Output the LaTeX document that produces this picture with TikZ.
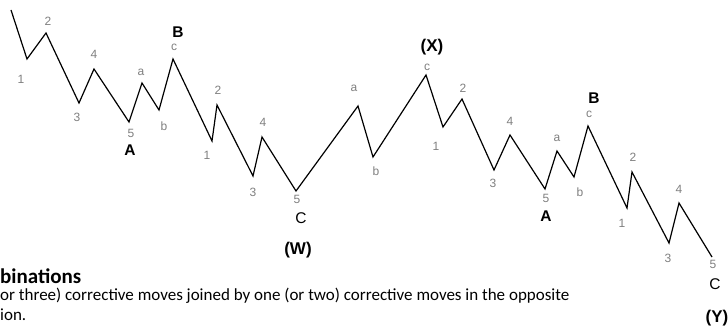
\documentclass[tikz,border=0pt]{standalone}
\usepackage{fontspec}
\setmainfont{Liberation Sans}
\newfontfamily\bodyfont{Carlito}
\definecolor{lblgray}{HTML}{7F7F7F}
\tikzset{
  wave/.style={line width=1.2pt, black, line join=miter},
  sub/.style={text=lblgray, font=\fontsize{12}{12}\selectfont, inner sep=0pt},
  big/.style={text=black, font=\fontsize{15.5}{15.5}\selectfont\bfseries, inner sep=0pt},
  bigreg/.style={text=black, font=\fontsize{15.5}{15.5}\selectfont, inner sep=0pt},
  deg/.style={text=black, font=\fontsize{17}{17}\selectfont\bfseries, inner sep=0pt},
  body/.style={text=black, anchor=west, inner sep=0pt}
}
\begin{document}
\begin{tikzpicture}[x=1pt,y=-1pt]
\useasboundingbox (0,0) rectangle (728,326);
% wave points
\coordinate (p0) at (11,10);
\coordinate (p1) at (27,59);
\coordinate (p2) at (46,33);
\coordinate (p3) at (79,103);
\coordinate (p4) at (94,69);
\coordinate (p5) at (129,122);
\coordinate (pa) at (142,83);
\coordinate (pb) at (159,110);
\coordinate (pc) at (173,59);
\coordinate (q1) at (212,141);
\coordinate (q2) at (217,105);
\coordinate (q3) at (253,176);
\coordinate (q4) at (262,137);
\coordinate (q5) at (296,191);
\coordinate (ra) at (358,106);
\coordinate (rb) at (373,157);
\coordinate (rc) at (426,75);
\coordinate (s1) at (443,127);
\coordinate (s2) at (462,99);
\coordinate (s3) at (494,170);
\coordinate (s4) at (510,135);
\coordinate (s5) at (545,189);
\coordinate (ta) at (557,151);
\coordinate (tb) at (574,177);
\coordinate (tc) at (588,126);
\coordinate (u1) at (627,208);
\coordinate (u2) at (632,172);
\coordinate (u3) at (669,243);
\coordinate (u4) at (679,203);
\coordinate (u5) at (712,257);
\draw[wave] (p0) -- (p1) -- (p2) -- (p3) -- (p4) -- (p5) -- (pa) -- (pb) -- (pc)
  -- (q1) -- (q2) -- (q3) -- (q4) -- (q5) -- (ra) -- (rb) -- (rc)
  -- (s1) -- (s2) -- (s3) -- (s4) -- (s5) -- (ta) -- (tb) -- (tc)
  -- (u1) -- (u2) -- (u3) -- (u4) -- (u5);
% labels, first W
\node[sub] (l1) at (21,79) {1};
\node[sub] (l2) at (48,21) {2};
\node[sub] (l3) at (77,117) {3};
\node[sub] (l4) at (94,54) {4};
\node[sub] (l5) at (131,133) {5};
\node[big] (lA) at (130,150) {A};
\node[sub] (la) at (141,72) {a};
\node[sub] (lb) at (164,126) {b};
\node[sub] (lc) at (174,47) {c};
\node[big] (lB) at (178,32) {B};
\node[sub] (m1) at (207,155) {1};
\node[sub] (m2) at (218,90) {2};
\node[sub] (m3) at (253,192) {3};
\node[sub] (m4) at (263,122) {4};
\node[sub] (m5) at (297,199) {5};
\node[bigreg] (lC) at (301,218) {C};
\node[deg] (lW) at (298,250) {(W)};
% X
\node[sub] (xa) at (354,88) {a};
\node[sub] (xb) at (376,171) {b};
\node[sub] (xc) at (427,67) {c};
\node[deg] (lX) at (432,47) {(X)};
% Y
\node[sub] (n1) at (436,146) {1};
\node[sub] (n2) at (463,88) {2};
\node[sub] (n3) at (493,183) {3};
\node[sub] (n4) at (510,121) {4};
\node[sub] (n5) at (546,198) {5};
\node[big] (lA2) at (546,216) {A};
\node[sub] (ya) at (557,138) {a};
\node[sub] (yb) at (580,192) {b};
\node[sub] (yc) at (589,114) {c};
\node[big] (lB2) at (594,98) {B};
\node[sub] (o1) at (622,223) {1};
\node[sub] (o2) at (633,157) {2};
\node[sub] (o3) at (668,258) {3};
\node[sub] (o4) at (679,189) {4};
\node[sub] (o5) at (713,264) {5};
\node[bigreg] (lC2) at (715,284) {C};
\node[deg] (lY) at (717,318) {(Y)};
% text
\node[body, font=\bodyfont\fontsize{21}{21}\selectfont\bfseries] (t1) at (0,276) {binations};
\node[body, font=\bodyfont\fontsize{17}{17}\selectfont] (t2) at (0,296) {or three) corrective moves joined by one (or two) corrective moves in the opposite};
\node[body, font=\bodyfont\fontsize{17}{17}\selectfont] (t3) at (0,315) {ion.};
\end{tikzpicture}
\end{document}
